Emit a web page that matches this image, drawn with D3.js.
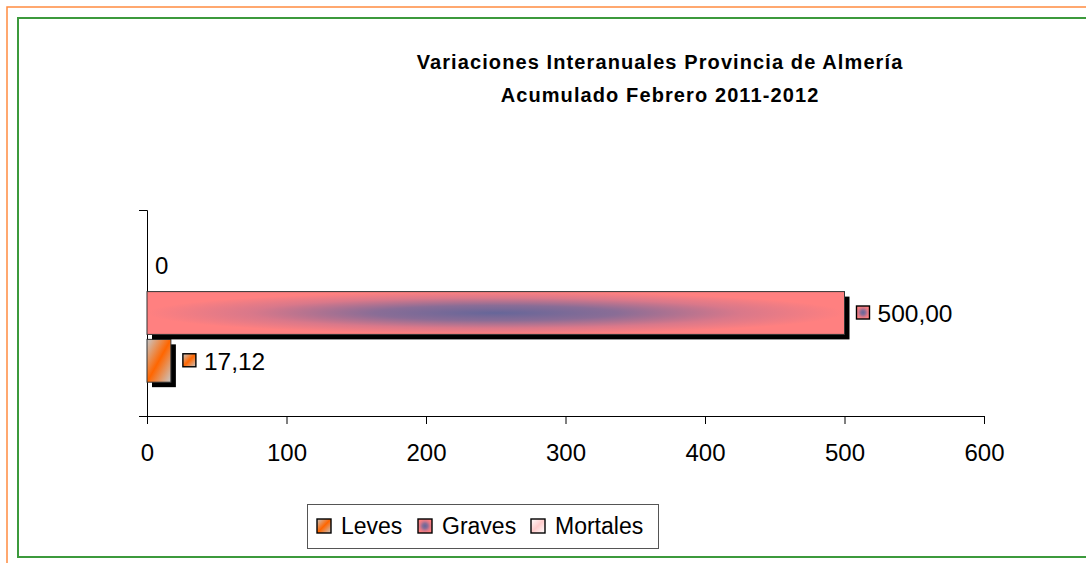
<!DOCTYPE html>
<html><head><meta charset="utf-8">
<script src="https://cdn.jsdelivr.net/npm/d3@7"></script>
<style>html,body{margin:0;padding:0;background:#fff;overflow:hidden}</style>
</head><body>
<script>
const titleLines = ["Variaciones Interanuales Provincia de Almería", "Acumulado Febrero 2011-2012"];
const category = ["Almería"];
const seriesNames = ["Leves", "Graves", "Mortales"];
const seriesValues = [17.12, 500.00, 0];
const valueLabels = ["17,12", "500,00", "0"];
const xTicks = [0, 100, 200, 300, 400, 500, 600];

const W = 1086, H = 563;
const svg = d3.select("body").append("svg").attr("width", W).attr("height", H);
const defs = svg.append("defs");

// gradients
const gL = defs.append("linearGradient").attr("id","gLeves").attr("x1","0").attr("y1","0").attr("x2","1").attr("y2","1");
[[0,"#c8c8c8"],[0.5,"#ff6600"],[1,"#c8c8c8"]].forEach(s=>gL.append("stop").attr("offset",s[0]).attr("stop-color",s[1]));
const gG = defs.append("radialGradient").attr("id","gGraves").attr("cx","0.5").attr("cy","0.5").attr("r","0.5");
[[0,"#666699"],[0.35,"#8a6d96"],[0.7,"#d9788a"],[1,"#ff8080"]].forEach(s=>gG.append("stop").attr("offset",s[0]).attr("stop-color",s[1]));
const gM = defs.append("linearGradient").attr("id","gMort").attr("x1","0").attr("y1","0").attr("x2","1").attr("y2","1");
[[0,"#ffffff"],[0.5,"#ffcccc"],[1,"#ffffff"]].forEach(s=>gM.append("stop").attr("offset",s[0]).attr("stop-color",s[1]));
const fills = {"Leves":"url(#gLeves)","Graves":"url(#gGraves)","Mortales":"url(#gMort)"};

// frames
svg.append("rect").attr("x",7).attr("y",7).attr("width",W).attr("height",H).attr("fill","none").attr("stroke","#ff8c40").attr("stroke-width",1.5);
svg.append("rect").attr("x",18).attr("y",18).attr("width",W).attr("height",539).attr("fill","none").attr("stroke","#3c9a3c").attr("stroke-width",2);

const font = "Liberation Sans, Arial, sans-serif";
// title
const title = svg.append("text").attr("text-anchor","middle").attr("font-family",font)
  .attr("font-weight","bold").attr("font-size","20px").attr("fill","#000").attr("letter-spacing","1.1px");
titleLines.forEach((t,i)=>title.append("tspan").attr("x",660).attr("y",69+i*33).text(t));

// scales
const plotTop = 210, plotBottom = 416;
const x = d3.scaleLinear().domain([0,600]).range([147,984]);
const ySeries = d3.scaleBand().domain(["Mortales","Graves","Leves"]).range([plotTop, plotBottom]).paddingInner(0.104).paddingOuter(0.708);

// axes
const xAxis = d3.axisBottom(x).tickValues(xTicks).tickSize(8).tickSizeOuter(0).tickFormat(d3.format("d"));
const gx = svg.append("g").attr("transform",`translate(0,${plotBottom})`).call(xAxis);
gx.select(".domain").attr("stroke","#000");
gx.selectAll(".tick line").attr("stroke","#000");
gx.selectAll(".tick text").attr("font-family",font).attr("font-size","24px").attr("fill","#000").attr("y",45).attr("dy","0");
// y axis line
const yCat = d3.scaleBand().domain(category).range([plotTop, plotBottom]);
const yAxis = d3.axisLeft(yCat).tickSize(0).tickSizeOuter(8).tickFormat("");
const gy = svg.append("g").attr("transform","translate(147,0)").call(yAxis);
gy.select(".domain").attr("stroke","#000");

// bars
const data = seriesNames.map((s,i)=>({s, v:seriesValues[i], label:valueLabels[i]}));
const bars = svg.append("g");
data.forEach(d=>{
  const y0 = ySeries(d.s), h = ySeries.bandwidth();
  const w = x(d.v) - x(0);
  if (w > 0) {
    bars.append("rect").attr("x",x(0)+5).attr("y",y0+5).attr("width",w).attr("height",h).attr("fill","#000");
    bars.append("rect").attr("x",x(0)).attr("y",y0).attr("width",w).attr("height",h)
      .attr("fill",fills[d.s]).attr("stroke","#333").attr("stroke-width",1);
  }
});

// data labels
data.forEach(d=>{
  const cy = ySeries(d.s) + ySeries.bandwidth()/2;
  const xe = x(d.v);
  if (d.v > 0) {
    svg.append("rect").attr("x",xe+12).attr("y",cy-7).attr("width",13).attr("height",13)
      .attr("fill",fills[d.s]).attr("stroke","#000").attr("stroke-width",1.4);
    svg.append("text").attr("x",xe+33).attr("y",cy).attr("dy","0.36em").attr("font-family",font).attr("font-size","24.5px").attr("fill","#000").text(d.label);
  } else {
    svg.append("text").attr("x",xe+8).attr("y",cy).attr("dy","0.36em").attr("font-family",font).attr("font-size","24px").attr("fill","#000").text(d.label);
  }
});

// legend
const lg = svg.append("g");
lg.append("rect").attr("x",307.5).attr("y",504.5).attr("width",351).attr("height",44).attr("fill","#fff").attr("stroke","#555").attr("stroke-width",1);
const legX = [317, 418, 531];
seriesNames.forEach((s,i)=>{
  lg.append("rect").attr("x",legX[i]).attr("y",519).attr("width",14).attr("height",14)
    .attr("fill",fills[s]).attr("stroke","#000").attr("stroke-width",1.4);
  lg.append("text").attr("x",legX[i]+24).attr("y",526).attr("dy","0.36em").attr("font-family",font).attr("font-size","23px").attr("fill","#000").text(s);
});
</script>
</body></html>
